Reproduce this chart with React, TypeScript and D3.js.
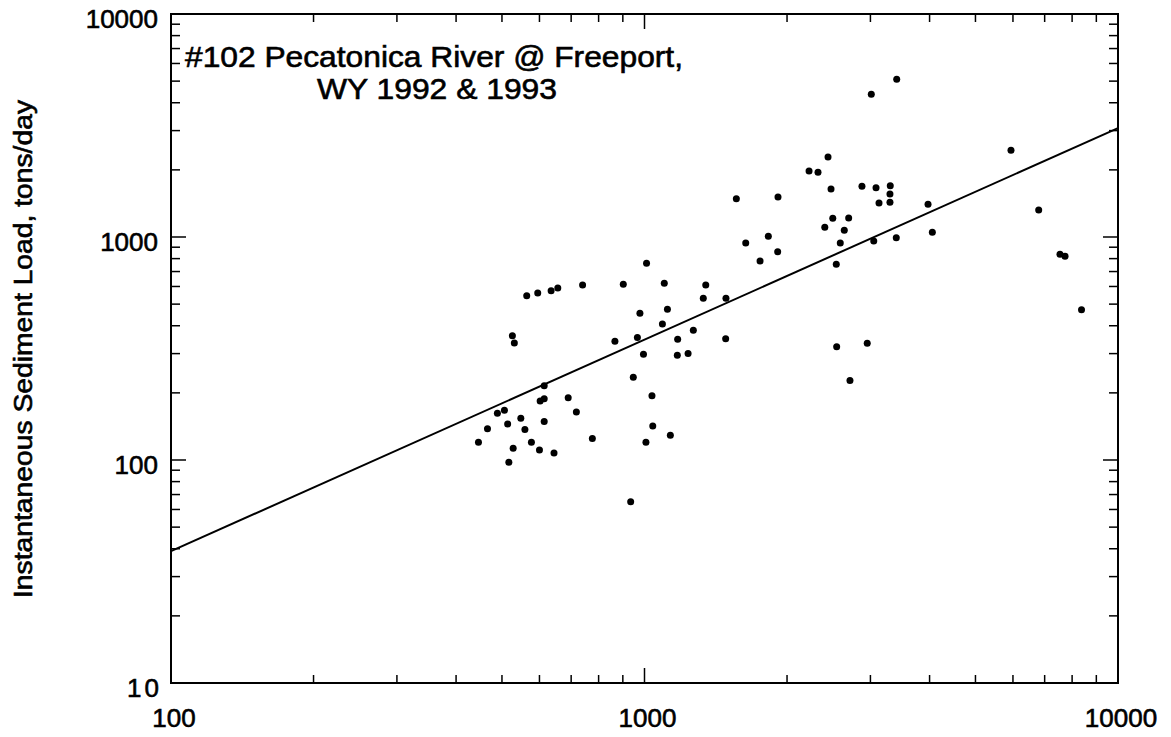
import React from 'react';
import * as d3 from 'd3';

// discharge (x) and instantaneous sediment load (y)
const discharge = [
  1010, 1754, 1911, 564, 595, 635, 656, 740, 902, 1101, 1347, 1331, 1486, 978, 1118, 1091, 1268,
  526, 531, 866, 966, 1175, 1484, 995, 1173, 1236, 947, 614, 1037, 690, 602, 614, 489, 506, 718,
  466, 514, 548, 559, 614, 1041, 1134, 446, 528, 577, 600, 644, 776, 1007, 517, 935,
  3409, 3013, 5943, 2441, 2226, 2325, 2477, 2879, 3083, 3304, 3299, 3128, 3299, 1563, 1914, 3970,
  6800, 2498, 2699, 2403, 2642, 4054, 1636, 1826, 2591, 3049, 3402, 2541, 7542, 7729, 8374,
  2546, 2954, 2716
];
const load = [
  762, 781, 859, 545, 561, 574, 591, 609, 614, 621, 609, 531, 531, 455, 474, 407, 382,
  361, 335, 341, 354, 348, 350, 298, 295, 300, 235, 215, 194, 190, 184, 188, 162, 167, 164,
  138, 145, 154, 137, 149, 142, 129, 120, 113, 120, 111, 107.5, 125, 120, 97.7, 65,
  5095, 4364, 2448, 2284, 1977, 1950, 1642, 1688, 1664, 1698, 1559, 1421, 1431, 1485, 1512, 1402,
  1322, 1213, 1217, 1106, 1072, 1050, 940, 1007, 940, 960, 993, 754, 836, 819, 472,
  322, 334, 227
];

// regression line end points
const fitX = [100, 10000];
const fitY = [39, 3080];

const xTickLabels = ['100', '1000', '10000'];
const yTickLabels = ['10', '100', '1000', '10000'];

const titleLines = ['#102 Pecatonica River @ Freeport,', 'WY 1992 & 1993'];
const yTitle = 'Instantaneous Sediment Load, tons/day';

const W = 1171;
const H = 737;
const m = { left: 171, right: 1118, top: 14, bottom: 683 };
const FONT = '"Liberation Sans", Arial, Helvetica, sans-serif';

export default function App() {
  const x = d3.scaleLog().domain([100, 10000]).range([m.left, m.right]);
  const y = d3.scaleLog().domain([10, 10000]).range([m.bottom, m.top]);

  const xt = x.ticks();
  const yt = y.ticks();
  const isMajor = (v: number) => Math.abs(Math.log10(v) - Math.round(Math.log10(v))) < 1e-9;

  const fitLine = d3.line<number>()
    .x((d, i) => x(fitX[i]))
    .y((d, i) => y(fitY[i]));

  // scanned text looks a bit heavy
  const ink = { fill: '#000', stroke: '#000', strokeWidth: 0.6 };

  return (
    <svg width={W} height={H} style={{ position: 'absolute', left: 0, top: 0, background: '#fff' }}
      fontFamily={FONT}>
      {/* frame */}
      <rect x={m.left} y={m.top} width={m.right - m.left} height={m.bottom - m.top}
        fill="none" stroke="#000" strokeWidth={2} />

      {/* x ticks, bottom and top */}
      {xt.map((v, i) => {
        const len = isMajor(v) ? 15 : 8;
        return (
          <g key={'xt' + i} stroke="#000" strokeWidth={1.5}>
            <line x1={x(v)} x2={x(v)} y1={m.bottom} y2={m.bottom - len} />
            <line x1={x(v)} x2={x(v)} y1={m.top} y2={m.top + len} />
          </g>
        );
      })}
      {/* y ticks, left and right */}
      {yt.map((v, i) => {
        const len = isMajor(v) ? 15 : 9;
        return (
          <g key={'yt' + i} stroke="#000" strokeWidth={1.5}>
            <line x1={m.left} x2={m.left + len} y1={y(v)} y2={y(v)} />
            <line x1={m.right} x2={m.right - len} y1={y(v)} y2={y(v)} />
          </g>
        );
      })}

      {/* tick labels */}
      {xTickLabels.map((t) => (
        <text key={'xl' + t} x={x(+t) + 3} y={727} textAnchor="middle" fontSize={26} {...ink}>{t}</text>
      ))}
      {yTickLabels.map((t) => (
        <text key={'yl' + t} x={t === '10' ? 162 : 158} y={y(+t) + 14} textAnchor="end" fontSize={26}
          letterSpacing={t === '10' ? 3 : 0} {...ink}>{t}</text>
      ))}

      {/* y axis title */}
      <text transform={`translate(32,349) rotate(-90)`} textAnchor="middle" fontSize={25}
        textLength={498} lengthAdjust="spacingAndGlyphs" {...ink}>{yTitle}</text>

      {/* title */}
      <text x={185} y={67} fontSize={29} textLength={498} lengthAdjust="spacingAndGlyphs" {...ink}>
        {titleLines[0]}
      </text>
      <text x={317} y={99} fontSize={29} textLength={240} lengthAdjust="spacingAndGlyphs" {...ink}>
        {titleLines[1]}
      </text>

      {/* regression line */}
      <path d={fitLine(fitX) || ''} fill="none" stroke="#000" strokeWidth={2} />

      {/* observations */}
      {discharge.map((q, i) => (
        <circle key={'p' + i} cx={x(q)} cy={y(load[i])} r={3.5} fill="#000" />
      ))}
    </svg>
  );
}
